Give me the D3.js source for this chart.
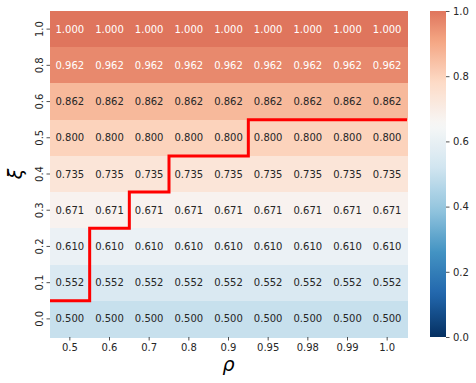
<!DOCTYPE html>
<html>
<head>
<meta charset="utf-8">
<script src="https://cdn.jsdelivr.net/npm/d3@7"></script>
<style>
  body { margin: 0; background: #fff; }
  svg { font-family: "DejaVu Sans", sans-serif; }
</style>
</head>
<body>
<div id="chart"></div>
<script>
// data
const rhoLabels = ["0.5", "0.6", "0.7", "0.8", "0.9", "0.95", "0.98", "0.99", "1.0"];
const xiLabels = ["1.0", "0.8", "0.6", "0.5", "0.4", "0.3", "0.2", "0.1", "0.0"];   // top to bottom
const rowValues = [1.000, 0.962, 0.862, 0.800, 0.735, 0.671, 0.610, 0.552, 0.500];  // per xi row, same across rho
// for each rho column: how many rows (from the bottom) fall below the red boundary
const boundaryRows = [1, 3, 4, 5, 5, 6, 6, 6, 6];
const cbarTicks = [0, 0.2, 0.4, 0.6, 0.8, 1.0];
const center = 0.65;

const WIDTH = 476, HEIGHT = 383;
const margin = {top: 11, left: 50, right: 69, bottom: 46};
const w = 357, h = 326;

const svg = d3.select("#chart").append("svg")
    .attr("width", WIDTH)
    .attr("height", HEIGHT);

const g = svg.append("g")
    .attr("transform", "translate(" + margin.left + "," + margin.top + ")");

const x = d3.scaleBand().domain(rhoLabels).range([0, w]);
const y = d3.scaleBand().domain(xiLabels).range([0, h]);

// RdBu_r, piecewise linear like matplotlib, recentred the way seaborn does
const rdbu = d3.schemeRdBu[11].slice().reverse();
const interp = d3.piecewise(d3.interpolateRgb, rdbu);
const vrange = Math.max(1 - center, center - 0);
const color = v => interp(Math.max(0, Math.min(1, (v - (center - vrange)) / (2 * vrange))));

function luminance(c) {
    const rgb = d3.rgb(c);
    const f = u => { u = u / 255; return u <= 0.03928 ? u / 12.92 : Math.pow((u + 0.055) / 1.055, 2.4); };
    return 0.2126 * f(rgb.r) + 0.7152 * f(rgb.g) + 0.0722 * f(rgb.b);
}

const cells = [];
xiLabels.forEach((xi, i) => {
    rhoLabels.forEach(rho => cells.push({rho: rho, xi: xi, value: rowValues[i]}));
});

g.selectAll(".cell")
    .data(cells)
    .enter().append("rect")
    .attr("class", "cell")
    .attr("x", d => x(d.rho))
    .attr("y", d => y(d.xi))
    .attr("width", x.bandwidth() + 1)
    .attr("height", y.bandwidth() + 1)
    .attr("shape-rendering", "crispEdges")
    .attr("fill", d => color(d.value));

g.selectAll(".annot")
    .data(cells)
    .enter().append("text")
    .attr("class", "annot")
    .attr("x", d => x(d.rho) + x.bandwidth() / 2)
    .attr("y", d => y(d.xi) + y.bandwidth() / 2)
    .attr("dy", "0.35em")
    .attr("text-anchor", "middle")
    .style("font-size", "10px")
    .attr("fill", d => luminance(color(d.value)) > 0.408 ? "#262626" : "#ffffff")
    .text(d => d.value.toFixed(3));

// red boundary step line
const pts = [];
boundaryRows.forEach((n, j) => {
    const yy = y(xiLabels[xiLabels.length - n]);
    pts.push([x(rhoLabels[j]), yy]);
    pts.push([x(rhoLabels[j]) + x.bandwidth(), yy]);
});
g.append("path")
    .attr("d", d3.line()(pts))
    .attr("fill", "none")
    .attr("stroke", "#ff0000")
    .attr("stroke-width", 3);

// axes
const xAxis = g.append("g")
    .attr("transform", "translate(0," + h + ")")
    .call(d3.axisBottom(x).tickSize(3.5).tickPadding(3.5));
const yAxis = g.append("g")
    .call(d3.axisLeft(y).tickSize(3.5).tickPadding(3.5));

[xAxis, yAxis].forEach(a => {
    a.select(".domain").remove();
    a.selectAll(".tick line").attr("stroke", "#262626").attr("stroke-width", 0.8);
    a.selectAll(".tick text").attr("fill", "#262626").style("font-size", "10px").style("font-family", "DejaVu Sans");
});
yAxis.selectAll(".tick text")
    .attr("text-anchor", "middle")
    .attr("dy", null)
    .attr("x", null)
    .attr("transform", "translate(-11,0) rotate(-90)")
    .attr("dominant-baseline", "central");

svg.append("text")
    .attr("x", margin.left + w / 2)
    .attr("y", 371)
    .attr("text-anchor", "middle")
    .style("font-size", "19px")
    .style("font-style", "italic")
    .attr("fill", "#000")
    .text("ρ");

svg.append("text")
    .attr("transform", "translate(22," + (margin.top + h / 2) + ") rotate(-90)")
    .attr("text-anchor", "middle")
    .style("font-size", "19px")
    .style("font-style", "italic")
    .attr("fill", "#000")
    .text("ξ");

// colorbar
const cbX = 430, cbW = 16;
const cy = d3.scaleLinear().domain([0, 1]).range([margin.top + h, margin.top]);
const defs = svg.append("defs");
const grad = defs.append("linearGradient")
    .attr("id", "cbgrad")
    .attr("x1", 0).attr("y1", 1).attr("x2", 0).attr("y2", 0);
d3.range(0, 1.0001, 0.02).forEach(t => {
    grad.append("stop").attr("offset", t).attr("stop-color", color(t));
});
svg.append("rect")
    .attr("x", cbX)
    .attr("y", margin.top)
    .attr("width", cbW)
    .attr("height", h)
    .attr("fill", "url(#cbgrad)");

const cAxis = svg.append("g")
    .attr("transform", "translate(" + (cbX + cbW) + ",0)")
    .call(d3.axisRight(cy).tickValues(cbarTicks).tickFormat(d3.format(".1f")).tickSize(3.5).tickPadding(3.5));
cAxis.select(".domain").remove();
cAxis.selectAll(".tick line").attr("stroke", "#262626").attr("stroke-width", 0.8);
cAxis.selectAll(".tick text").attr("fill", "#262626").style("font-size", "10px").style("font-family", "DejaVu Sans");
</script>
</body>
</html>
